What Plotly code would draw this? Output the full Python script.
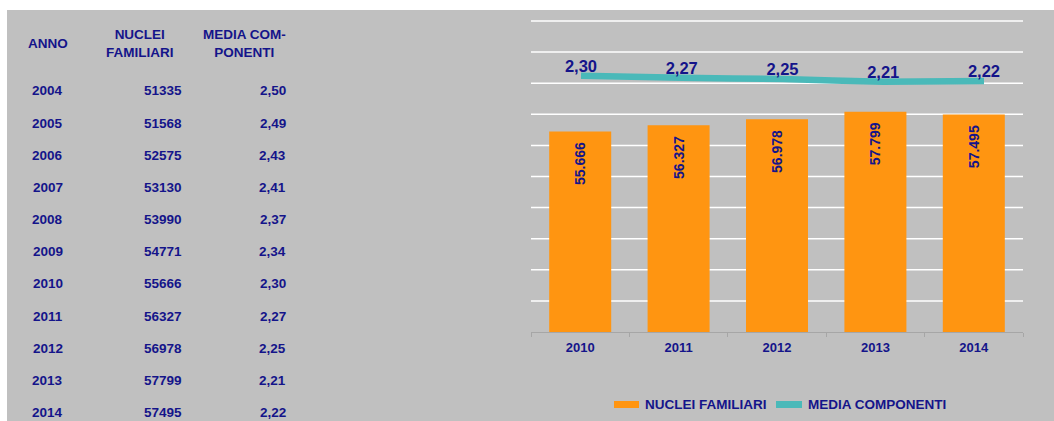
import plotly.graph_objects as go

# ---- data ----
anni = [2004, 2005, 2006, 2007, 2008, 2009, 2010, 2011, 2012, 2013, 2014]
nuclei = [51335, 51568, 52575, 53130, 53990, 54771, 55666, 56327, 56978, 57799, 57495]
media = [2.50, 2.49, 2.43, 2.41, 2.37, 2.34, 2.30, 2.27, 2.25, 2.21, 2.22]
header = ["ANNO", "NUCLEI<br>FAMILIARI", "MEDIA COM-<br>PONENTI"]
chart_from = 2010
legend_names = ["NUCLEI FAMILIARI", "MEDIA COMPONENTI"]

NAVY = "#14148A"
ORANGE = "#FF9511"
TEAL = "#4AB9B9"
GRAY = "#C0C0C0"
FONT = "Liberation Sans, Arial, sans-serif"

W, H = 1054, 421
PL, PR, PT, PB = 531, 1023, 21, 332  # plot area pixels


def px(x):
    return (x - PL) / (PR - PL)


def py(y):
    return (PB - y) / (PB - PT)


i0 = anni.index(chart_from)
cats = [str(a) for a in anni[i0:]]
bar_vals = nuclei[i0:]
line_vals = media[i0:]

fig = go.Figure()
fig.add_trace(go.Bar(
    x=cats, y=bar_vals, name=legend_names[0],
    marker=dict(color=ORANGE, line=dict(width=0)),
    text=[f"{v:,}".replace(",", ".") + "\u00a0\u00a0" for v in bar_vals],
    textposition="inside", insidetextanchor="end", textangle=-90,
    insidetextfont=dict(family=FONT, size=14, color=NAVY, weight="bold"),
    showlegend=False, hoverinfo="skip",
))
fig.add_trace(go.Scatter(
    x=cats, y=line_vals, name=legend_names[1], xaxis="x2", yaxis="y2",
    mode="lines+text",
    line=dict(color=TEAL, width=6.5, shape="spline", smoothing=0.4),
    text=[f"{v:.2f}".replace(".", ",") for v in line_vals],
    textposition="top center",
    textfont=dict(family=FONT, size=16.5, color=NAVY, weight="bold"),
    showlegend=False, cliponaxis=False, hoverinfo="skip",
))

annotations = []
# table header
col_x = [47.5, 140, 244]
for hx, txt in zip(col_x, header):
    annotations.append(dict(
        x=px(hx), y=py(43.5), xref="paper", yref="paper", text=txt,
        showarrow=False, xanchor="center", yanchor="middle", align="center",
        font=dict(family=FONT, size=13.5, color=NAVY, weight="bold"),
    ))
# table rows
for i, (a, n, m) in enumerate(zip(anni, nuclei, media)):
    yy = py(91 + i * 32.15)
    f = dict(family=FONT, size=13.5, color=NAVY, weight="bold")
    annotations.append(dict(x=px(47.5), y=yy, xref="paper", yref="paper", text=str(a),
                            showarrow=False, xanchor="center", yanchor="middle", font=f))
    annotations.append(dict(x=px(184), y=yy, xref="paper", yref="paper", text=str(n),
                            showarrow=False, xanchor="right", yanchor="middle", font=f))
    annotations.append(dict(x=px(288), y=yy, xref="paper", yref="paper",
                            text=f"{m:.2f}".replace(".", ","),
                            showarrow=False, xanchor="right", yanchor="middle", font=f))

# background panel
shapes = [
    dict(type="rect", xref="paper", yref="paper", x0=px(7), x1=px(W),
         y0=py(H), y1=py(10), fillcolor=GRAY, line=dict(width=0), layer="below"),
]
# legend (manual)
legend_items = [(614, 639, ORANGE, 643, legend_names[0]), (776, 802, TEAL, 806, legend_names[1])]
for x0, x1, col, tx, name in legend_items:
    shapes.append(dict(type="rect", xref="paper", yref="paper", x0=px(x0), x1=px(x1),
                       y0=py(408), y1=py(401), fillcolor=col, line=dict(width=0)))
    annotations.append(dict(x=px(tx), y=py(404.5), xref="paper", yref="paper", text=name,
                            showarrow=False, xanchor="left", yanchor="middle",
                            font=dict(family=FONT, size=13.5, color=NAVY, weight="bold")))

step2 = 100.75
fig.update_layout(
    width=W, height=H,
    margin=dict(l=PL, r=W - PR, t=PT, b=H - PB, autoexpand=False),
    paper_bgcolor="white", plot_bgcolor=GRAY,
    bargap=0.37,
    xaxis=dict(type="category", showgrid=False, showline=True, linecolor="#A6A6A6",
               linewidth=1, ticks="outside", tickson="boundaries", ticklen=4,
               tickcolor="#A6A6A6", ticklabelstandoff=3,
               tickfont=dict(family=FONT, size=13, color=NAVY, weight="bold")),
    xaxis2=dict(type="category", overlaying="x", visible=False,
                range=[(PL - 581) / step2, (PR - 581) / step2]),
    yaxis=dict(range=[34000, 67600], showgrid=False, showticklabels=False,
               zeroline=False, showline=False, ticks=""),
    yaxis2=dict(range=[-1.54, 3.12], overlaying="y", side="right",
                showgrid=False, showticklabels=False, zeroline=False),
    shapes=shapes, annotations=annotations,
)
# horizontal gridlines (10 equal intervals of the plot height)
for k in range(1, 11):
    fig.add_hline(y=k / 10, yref="paper", line=dict(color="white", width=1.5), layer="below")

fig.write_html(
    "out.html",
    config={"displayModeBar": False},
    post_script="document.body.style.margin='0px';document.body.style.overflow='hidden';",
)
